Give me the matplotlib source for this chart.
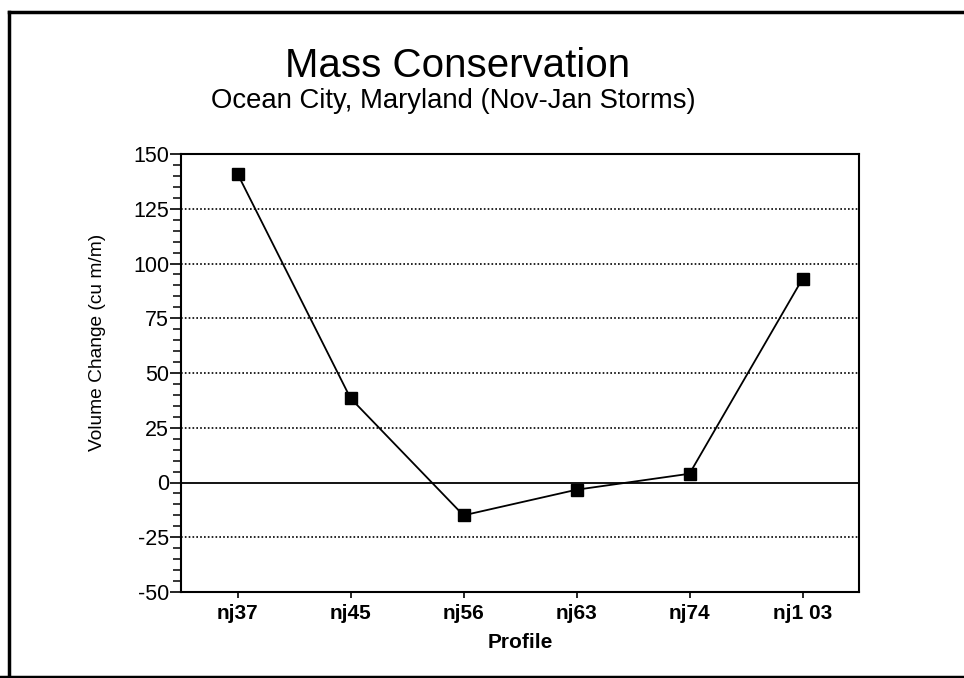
import matplotlib
matplotlib.use("Agg")
import matplotlib.pyplot as plt
from matplotlib.lines import Line2D
from matplotlib.ticker import MultipleLocator

# profile names and volume change readings (cu m/m)
profiles = ["nj37", "nj45", "nj56", "nj63", "nj74", "nj1 03"]
volume_change = [141, 38.5, -15, -3.3, 4, 93]
y_ticks = [-50, -25, 0, 25, 50, 75, 100, 125, 150]
grid_levels = [-25, 25, 50, 75, 100, 125]

plt.rcParams['font.family'] = ['Liberation Sans', 'DejaVu Sans']

W, H = 964, 678
fig = plt.figure(figsize=(W / 100, H / 100), dpi=100)
fig.patch.set_facecolor('white')

# axes box in pixels: left 181, right 859, top 154, bottom 592
ax = fig.add_axes([181 / W, 1 - 592 / H, 678 / W, 438 / H])

x = list(range(len(profiles)))

# dotted grid and solid zero line
for g in grid_levels:
    ax.axhline(g, color='black', lw=1.2, dashes=(1, 1.3), zorder=1)
ax.axhline(0, color='black', lw=1.3, zorder=1)

ax.plot(x, volume_change, color='black', lw=1.3, marker='s', markersize=8,
        markerfacecolor='black', markeredgecolor='black', zorder=3)

ax.set_xlim(-0.5, len(profiles) - 0.5)
ax.set_ylim(-50, 150)
ax.set_xticks(x)
ax.set_xticklabels(profiles, fontsize=15, fontweight='bold')
ax.set_yticks(y_ticks)
ax.set_yticklabels([str(v) for v in y_ticks], fontsize=15.5)
ax.yaxis.set_minor_locator(MultipleLocator(5))

ax.tick_params(axis='y', which='major', direction='out', length=8, width=1.2, pad=0.5)
ax.tick_params(axis='y', which='minor', direction='out', length=5.5, width=1.1)
ax.tick_params(axis='x', which='major', direction='out', length=4.5, width=1.2, pad=4)
for s in ax.spines.values():
    s.set_linewidth(1.5)

ax.set_xlabel("Profile", fontsize=15, fontweight='bold', labelpad=7)
fig.text(97 / W, 1 - 342 / H, "Volume Change (cu m/m)", rotation=90,
         ha='center', va='center', fontsize=13.8)

# titles
fig.text(458 / W, 1 - 77 / H, "Mass Conservation", ha='center', va='baseline',
         fontsize=29)
fig.text(453 / W, 1 - 108 / H, "Ocean City, Maryland (Nov-Jan Storms)",
         ha='center', va='baseline', fontsize=19.8)

# outer frame (left, top, bottom edges)
frame_kw = dict(color='black', lw=2.5, transform=fig.transFigure, clip_on=False)
fig.add_artist(Line2D([9 / W, 9 / W], [1 - 12 / H, 0], **frame_kw))
fig.add_artist(Line2D([9 / W, 1], [1 - 12 / H, 1 - 12 / H], **frame_kw))
fig.add_artist(Line2D([0, 1], [1 - 677 / H, 1 - 677 / H], **frame_kw))

fig.savefig("out.png", dpi=100)
